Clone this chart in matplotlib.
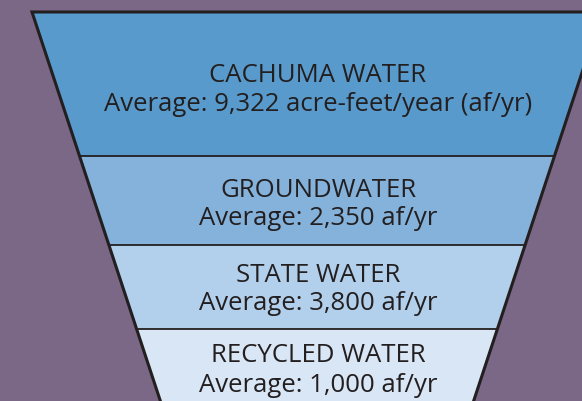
import matplotlib.pyplot as plt
from matplotlib.patches import Polygon

# water supply sources, top to bottom of the funnel
sources = ['CACHUMA WATER', 'GROUNDWATER', 'STATE WATER', 'RECYCLED WATER']
averages = [9322, 2350, 3800, 1000]
units = ['acre-feet/year (af/yr)', 'af/yr', 'af/yr', 'af/yr']
colors = ['#589acb', '#84b2db', '#b2d0eb', '#d9e6f5']

# layout (pixel coords, y down)
W, H = 582, 402
bounds = [13, 157, 246, 330, 430]      # layer edges
cx, top_half, slope = 317, 285, 0.33  # funnel centre, half width at top, side slope
baselines = [(82, 111), (197, 225), (282, 310), (362, 392)]
bg = '#7b6786'
ink = '#231f20'

plt.rcParams['font.family'] = ['Open Sans', 'DejaVu Sans']

fig = plt.figure(figsize=(W / 100, H / 100), dpi=100)
fig.patch.set_facecolor(bg)
ax = fig.add_axes([0, 0, 1, 1])
ax.set_xlim(0, W)
ax.set_ylim(H, 0)
ax.axis('off')


def half_width(y):
    return top_half - slope * (y - bounds[0])


for i, name in enumerate(sources):
    y0, y1 = bounds[i], bounds[i + 1]
    pts = [(cx - half_width(y0), y0), (cx + half_width(y0), y0),
           (cx + half_width(y1), y1), (cx - half_width(y1), y1)]
    ax.add_patch(Polygon(pts, closed=True, facecolor=colors[i], edgecolor='none'))
    if i > 0:
        ax.plot([cx - half_width(y0), cx + half_width(y0)], [y0, y0], color=ink, lw=1.3)

# funnel outline
yb = bounds[-1]
ax.plot([cx - half_width(yb), cx - half_width(bounds[0]), cx + half_width(bounds[0]), cx + half_width(yb)],
        [yb, bounds[0], bounds[0], yb], color=ink, lw=2.2, solid_joinstyle='miter')

# fit font size so the long line is ~426 px wide
long_label = f'Average: {averages[0]:,} {units[0]}'
probe = ax.text(0, 0, long_label, fontsize=20)
fig.canvas.draw()
w = probe.get_window_extent().width
probe.remove()
fs = 20 * 428 / w

for i, name in enumerate(sources):
    b1, b2 = baselines[i]
    ax.text(cx + 1, b1, name, ha='center', va='baseline', fontsize=fs, color=ink)
    ax.text(cx + 1, b2, f'Average: {averages[i]:,} {units[i]}', ha='center', va='baseline',
            fontsize=fs, color=ink)

fig.savefig('out.png', dpi=100, facecolor=bg)
